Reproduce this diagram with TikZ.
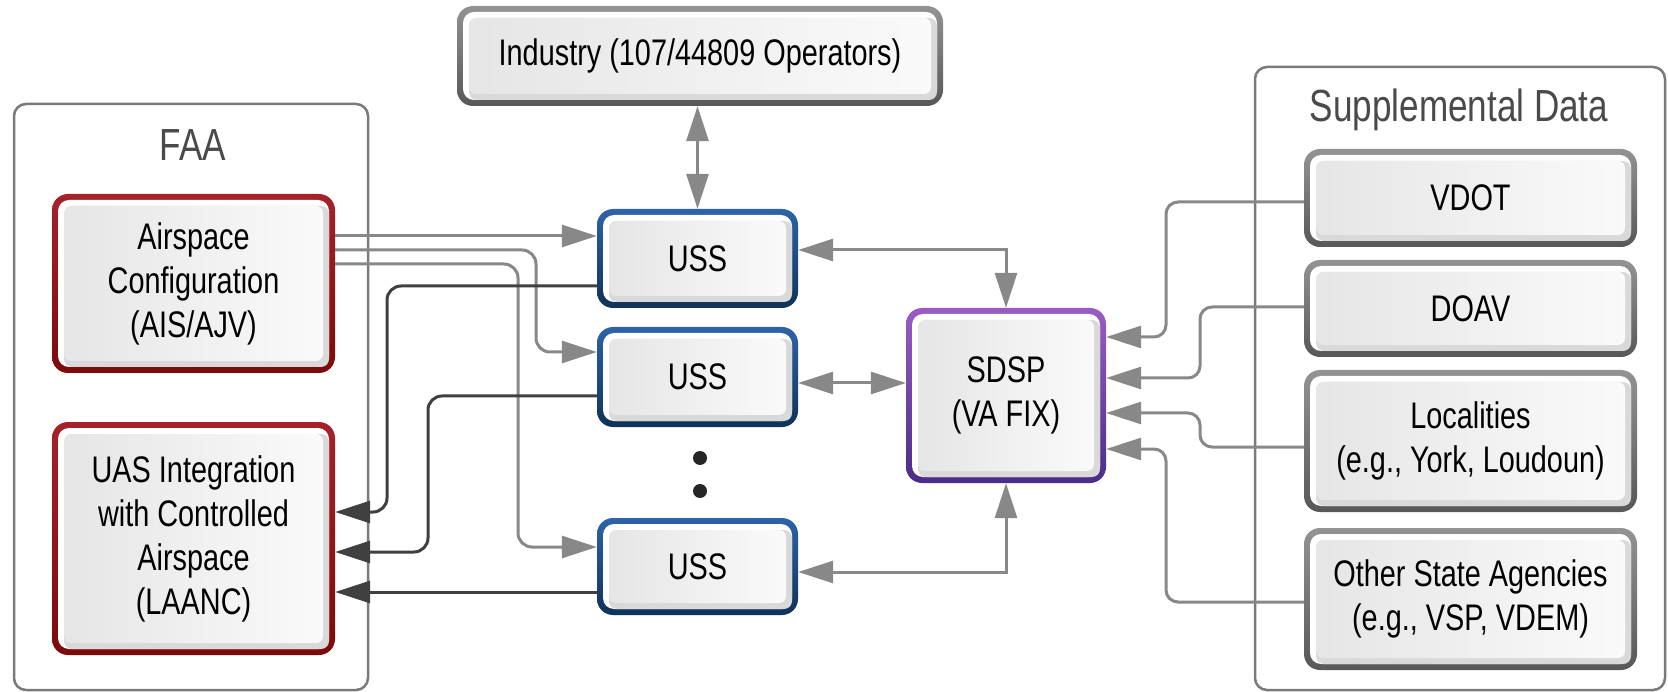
\documentclass[tikz,border=0pt]{standalone}
\usepackage{fontspec}
\setmainfont[FakeStretch=0.78]{Liberation Sans}
\usetikzlibrary{arrows.meta}
\definecolor{redT}{HTML}{A5222A}
\definecolor{redB}{HTML}{7D0A0A}
\definecolor{bluT}{HTML}{2D63A8}
\definecolor{bluB}{HTML}{0F3358}
\definecolor{purT}{HTML}{9A5CC4}
\definecolor{purB}{HTML}{4B2C88}
\definecolor{gryT}{HTML}{939393}
\definecolor{gryB}{HTML}{585858}
\definecolor{gline}{HTML}{888888}
\definecolor{dline}{HTML}{404040}
\definecolor{framec}{HTML}{7A7A7A}
\definecolor{headc}{HTML}{4A4A4A}
\newcommand\boxfont{\fontsize{37}{44}\selectfont}
\newcommand\headfont{\fontsize{45}{50}\selectfont}
\tikzset{
  card/.style n args={2}{shape=rectangle, rounded corners=16pt, top color=#1, bottom color=#2,
    inner sep=0pt, align=center, font=\boxfont, text=black,
    path picture={
      \fill[white, rounded corners=11pt] ([shift={(6,6)}]path picture bounding box.north west) rectangle ([shift={(-6,-6)}]path picture bounding box.south east);
      \fill[black!15, rounded corners=8pt] ([shift={(12,12)}]path picture bounding box.north west) rectangle ([shift={(-6,-6)}]path picture bounding box.south east);
      \shade[rounded corners=7pt, left color=black!10, right color=black!2] ([shift={(12,12)}]path picture bounding box.north west) rectangle ([shift={(-12,-12)}]path picture bounding box.south east);
    }},
  container/.style={draw=framec, line width=2.5pt, rounded corners=12pt, fill=white},
  heading/.style={font=\headfont, text=headc, inner sep=0pt},
  garrow/.style={draw=gline, line width=3pt, -{Triangle[length=35pt,width=22pt]}},
  gboth/.style={draw=gline, line width=3pt, {Triangle[length=35pt,width=22pt]}-{Triangle[length=35pt,width=22pt]}},
  darrow/.style={draw=dline, line width=3pt, -{Triangle[length=35pt,width=22pt]}},
  dotc/.style={fill=black!85}
}
\begin{document}
\begin{tikzpicture}[x=1pt,y=-1pt]
\useasboundingbox[fill=white] (0,0) rectangle (1668,692);
% containers
\draw[container] (14,104) rectangle (368,690);
\node[heading] (faalbl) at (193,145) {FAA};
\draw[container] (1255,67) rectangle (1665,690);
\node[heading] (suplbl) at (1459,110) {Supplemental Data};
% boxes
\node[card={redT}{redB}, minimum width=283pt, minimum height=179pt] (air) at (193.5,283.5) {Airspace\\Configuration\\(AIS/AJV)};
\node[card={redT}{redB}, minimum width=283pt, minimum height=233pt] (uas) at (193.5,538.5) {UAS Integration\\with Controlled\\Airspace\\(LAANC)};
\node[card={gryT}{gryB}, minimum width=486pt, minimum height=100pt] (ind) at (700,56) {Industry (107/44809 Operators)};
\node[card={bluT}{bluB}, minimum width=201pt, minimum height=99pt] (uss1) at (697.5,258.5) {USS};
\node[card={bluT}{bluB}, minimum width=201pt, minimum height=100pt] (uss2) at (697.5,377) {USS};
\node[card={bluT}{bluB}, minimum width=201pt, minimum height=97pt] (uss3) at (697.5,566.5) {USS};
\node[card={purT}{purB}, minimum width=200pt, minimum height=175pt] (sdsp) at (1006,395.5) {SDSP\\(VA FIX)};
\node[card={gryT}{gryB}, minimum width=333pt, minimum height=98pt] (vdot) at (1470.5,198) {VDOT};
\node[card={gryT}{gryB}, minimum width=333pt, minimum height=97pt] (doav) at (1470.5,308.5) {DOAV};
\node[card={gryT}{gryB}, minimum width=333pt, minimum height=142pt] (loc) at (1470.5,441) {Localities\\(e.g., York, Loudoun)};
\node[card={gryT}{gryB}, minimum width=333pt, minimum height=142pt] (oth) at (1470.5,599) {Other State Agencies\\(e.g., VSP, VDEM)};
% dots
\fill[dotc] (700,458) circle (7);
\fill[dotc] (700,491) circle (7);
% connectors: Airspace -> USS
\draw[garrow] (air.east |- 0,236) -- (uss1.west |- 0,236);
\draw[garrow, rounded corners=14pt] (air.east |- 0,250) -- (536,250) -- (536,352) -- (uss2.west |- 0,352);
\draw[garrow, rounded corners=14pt] (air.east |- 0,264) -- (518,264) -- (518,547) -- (uss3.west |- 0,547);
% USS -> UAS
\draw[darrow, rounded corners=14pt] (uss1.west |- 0,286) -- (387,286) -- (387,512) -- (uas.east |- 0,512);
\draw[darrow, rounded corners=14pt] (uss2.west |- 0,396) -- (428,396) -- (428,552) -- (uas.east |- 0,552);
\draw[darrow] (uss3.west |- 0,592) -- (uas.east |- 0,592);
% Industry <-> USS
\draw[gboth] (uss1.north |- ind.south) -- (uss1.north);
% USS <-> SDSP
\draw[gboth] (uss1.east |- 0,250) -- (sdsp.north |- 0,250) -- (sdsp.north);
\draw[gboth] (uss2.east |- 0,383) -- (sdsp.west |- 0,383);
\draw[gboth] (uss3.east |- 0,572) -- (sdsp.south |- 0,572) -- (sdsp.south);
% supplemental -> SDSP
\draw[garrow, rounded corners=12pt] (vdot.west |- 0,202) -- (1166,202) -- (1166,337) -- (sdsp.east |- 0,337);
\draw[garrow, rounded corners=12pt] (doav.west |- 0,307) -- (1200,307) -- (1200,378) -- (sdsp.east |- 0,378);
\draw[garrow, rounded corners=12pt] (loc.west |- 0,447) -- (1200,447) -- (1200,413) -- (sdsp.east |- 0,413);
\draw[garrow, rounded corners=12pt] (oth.west |- 0,602) -- (1166,602) -- (1166,449) -- (sdsp.east |- 0,449);
\end{tikzpicture}
\end{document}
